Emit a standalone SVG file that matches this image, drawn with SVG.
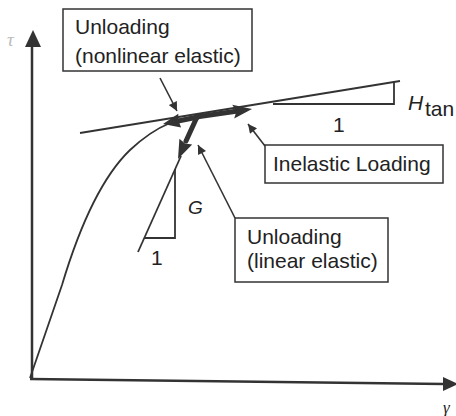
<svg xmlns="http://www.w3.org/2000/svg" width="456" height="416" viewBox="0 0 456 416">
<style>
.ax{stroke:#333;stroke-width:2.5;fill:none}
.ln{stroke:#333;stroke-width:1.8;fill:none}
.thick{stroke:#333;stroke-width:5;fill:none;stroke-linecap:round}
.hd{fill:#333}
.ptr{stroke:#333;stroke-width:1.6;fill:none}
.box{fill:#fff;stroke:#333;stroke-width:1.5}
.t{font-family:"Liberation Sans",Arial,sans-serif;font-size:21px;fill:#222}
.it{font-family:"Liberation Sans",Arial,sans-serif;font-style:italic;fill:#222}
</style>
<defs>
<marker id="ah" viewBox="0 0 10 10" refX="10" refY="5" markerWidth="12" markerHeight="9" markerUnits="userSpaceOnUse" orient="auto"><path d="M0,0 L10,5 L0,10 Z" fill="#333"/></marker>
</defs>
<rect width="456" height="416" fill="#fff"/>
<g id="axes">
<line class="ax" x1="32" y1="380" x2="32" y2="44"/>
<path d="M33,30 L41,47 L25,47 Z" fill="#333"/>
<line class="ax" x1="30" y1="379" x2="444" y2="384"/>
<path d="M458,384 L443,377 L443,391 Z" fill="#333"/>
<text x="7" y="46" font-family="'Liberation Serif',serif" font-style="italic" font-size="19" fill="#bbb">τ</text>
<text x="443" y="413" font-family="'Liberation Serif',serif" font-style="italic" font-size="17" fill="#222">γ</text>
</g>
<g id="curve">
<path class="ln" d="M30,378 L62,285 C80,225 103,176 130,150 C145,136 158,128 170,123"/>
</g>
<g id="tangent">
<line class="ln" x1="80" y1="133" x2="400" y2="81"/>
<polyline class="ln" points="273,104 394,104 394,81"/>
<text class="t" x="333" y="132">1</text>
<text class="it" x="408" y="110" font-size="21">H</text>
<text class="t" x="425" y="116" font-size="14">tan</text>
</g>
<g id="elastic">
<line class="ln" x1="181" y1="156" x2="138" y2="252"/>
<polyline class="ln" points="144,238 175,238 175,169"/>
<text class="it" x="188" y="214" font-size="19">G</text>
<text class="t" x="151" y="265">1</text>
</g>
<g id="connectors">
<line class="thick" x1="196" y1="117" x2="236" y2="111.3"/>
<path class="hd" d="M252,109 L234.2,118.6 L236.5,111.2 L232.2,104.8 Z"/>
<line class="thick" x1="198" y1="117" x2="178" y2="121"/>
<path class="hd" d="M163,124 L181.1,127.6 L178.5,120.8 L178.3,113.8 Z"/>
<line class="thick" x1="197" y1="117" x2="186" y2="141"/>
<path class="hd" d="M178,159 L192.2,144.6 L185,143.5 L179.4,138.8 Z"/>
<line class="ptr" x1="160" y1="78" x2="177" y2="111" marker-end="url(#ah)"/>
<line class="ptr" x1="265" y1="146" x2="248" y2="124" marker-end="url(#ah)"/>
<line class="ptr" x1="235" y1="218" x2="198" y2="145" marker-end="url(#ah)"/>
</g>
<g id="label-nonlinear">
<rect class="box" x="63" y="9" width="189" height="62"/>
<text class="t" x="75" y="34">Unloading</text>
<text class="t" x="75" y="63">(nonlinear elastic)</text>
</g>
<g id="label-inelastic">
<rect class="box" x="265" y="145" width="178" height="38"/>
<text class="t" x="273" y="171">Inelastic Loading</text>
</g>
<g id="label-linear">
<rect class="box" x="235" y="218" width="153" height="64"/>
<text class="t" x="247" y="244">Unloading</text>
<text class="t" x="247" y="268">(linear elastic)</text>
</g>
</svg>
